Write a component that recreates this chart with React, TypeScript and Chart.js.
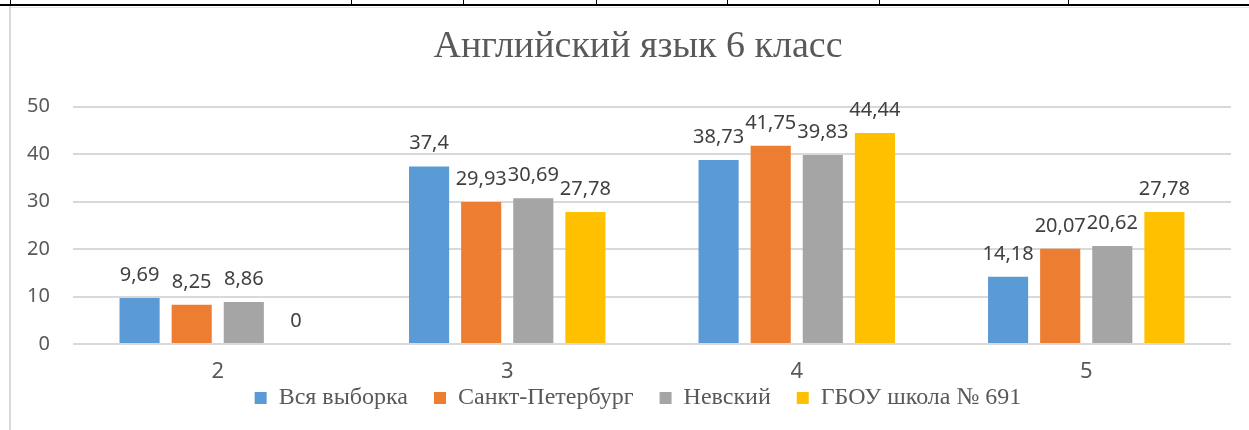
import React, { useEffect, useRef } from "react";
import { Chart, registerables } from "chart.js";

Chart.register(...registerables);

const categories = ["2", "3", "4", "5"];
const seriesNames = ["Вся выборка", "Санкт-Петербург", "Невский", "ГБОУ школа № 691"];
const allSample = [9.69, 37.4, 38.73, 14.18];
const spb = [8.25, 29.93, 41.75, 20.07];
const nevsky = [8.86, 30.69, 39.83, 20.62];
const school691 = [0, 27.78, 44.44, 27.78];
const seriesColors = ["#5B9BD5", "#ED7D31", "#A5A5A5", "#FFC000"];
const yTicks = [0, 10, 20, 30, 40, 50];
const tableDividers = [10, 351, 463, 596, 727, 879, 1068];

const labelPlugin = {
  id: "barValueLabels",
  afterLayout(chart: any) {
    // let the category labels of the x axis overlap the legend's top padding without being clipped
    const x = chart.scales.x;
    if (x) x.bottom = x.top + 50;
  },
  afterDatasetsDraw(chart: any) {
    const ctx = chart.ctx;
    ctx.save();
    ctx.font = "20px 'Noto Sans'";
    ctx.fillStyle = "#404040";
    ctx.textAlign = "center";
    ctx.textBaseline = "alphabetic";
    chart.data.datasets.forEach((ds: any, i: number) => {
      const meta = chart.getDatasetMeta(i);
      meta.data.forEach((bar: any, j: number) => {
        const v = ds.data[j];
        ctx.fillText(String(v).replace(".", ","), bar.x, bar.y - 17);
      });
    });
    ctx.restore();
  },
};

export default function App() {
  const ref = useRef<HTMLCanvasElement>(null);
  useEffect(() => {
    if (!ref.current) return;
    const values = [allSample, spb, nevsky, school691];
    const chart = new Chart(ref.current, {
      type: "bar",
      data: {
        labels: categories,
        datasets: seriesNames.map((name, i) => ({
          label: name,
          data: values[i],
          backgroundColor: seriesColors[i],
          borderWidth: 0,
          categoryPercentage: 0.72,
          barPercentage: 0.77,
        })),
      },
      options: {
        responsive: false,
        animation: false,
        layout: { padding: { left: 9, right: 13, top: 9, bottom: 10 } },
        plugins: {
          title: {
            display: true,
            text: "Английский язык 6 класс",
            color: "#595959",
            font: { family: "'Liberation Serif'", size: 38, weight: "normal" },
            padding: { top: 15, bottom: 37 },
          },
          legend: {
            position: "bottom",
            labels: {
              color: "#595959",
              font: { family: "'Liberation Serif'", size: 24 },
              boxWidth: 12,
              boxHeight: 12,
              padding: 26,
            },
          },
          tooltip: { enabled: false },
        },
        scales: {
          x: {
            afterFit: (s: any) => { s.height = 16; },
            grid: { display: false, drawTicks: false },
            border: { display: false },
            ticks: { color: "#595959", font: { family: "'Noto Sans'", size: 22 }, padding: 15 },
          },
          y: {
            min: 0,
            max: 50,
            afterFit: (s: any) => { s.width = 64; },
            afterBuildTicks: (s: any) => { s.ticks = yTicks.map((v) => ({ value: v })); },
            grid: { color: "#D9D9D9", lineWidth: 2, drawTicks: false },
            border: { display: false },
            ticks: { color: "#595959", font: { family: "'Noto Sans'", size: 20 }, padding: 23 },
          },
          yRightSpacer: {
            position: "right",
            min: 0,
            max: 50,
            afterFit: (s: any) => { s.width = 36; },
            grid: { display: false, drawTicks: false },
            border: { display: false },
            ticks: { display: false },
          },
        },
      },
      plugins: [labelPlugin],
    });
    return () => chart.destroy();
  }, []);

  return (
    <div style={{ position: "absolute", left: 0, top: 0, width: 1249, height: 430, background: "#fff", overflow: "hidden" }}>
      <canvas ref={ref} width={1280} height={430} style={{ position: "absolute", left: 0, top: 0 }} />
      <div style={{ position: "absolute", left: 9, top: 7, width: 1240, height: 1, background: "#E6E6E6" }} />
      <div style={{ position: "absolute", left: 0, top: 4, width: 1249, height: 2, background: "#000" }} />
      {tableDividers.map((x) => (
        <div key={x} style={{ position: "absolute", left: x, top: 0, width: 1, height: 6, background: "#000" }} />
      ))}
      <div style={{ position: "absolute", left: 9, top: 6, width: 2, height: 424, background: "#D9D9D9" }} />
    </div>
  );
}
